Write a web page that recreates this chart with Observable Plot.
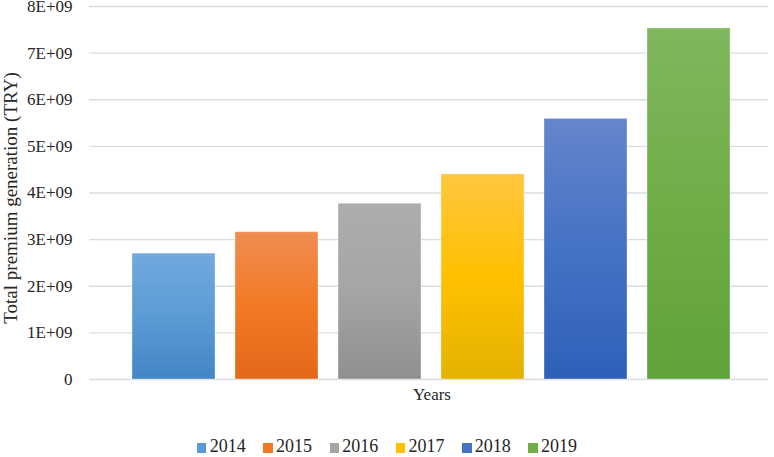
<!DOCTYPE html>
<html>
<head>
<meta charset="utf-8">
<script src="https://cdn.jsdelivr.net/npm/d3@7"></script>
<script src="https://cdn.jsdelivr.net/npm/@observablehq/plot@0.6"></script>
<style>
  html, body { margin: 0; padding: 0; background: #fff; }
  #wrap { width: 774px; height: 457px; overflow: hidden; font-family: "Liberation Serif", "Times New Roman", serif; color: #262626; }
  #legend { display: flex; justify-content: center; align-items: center; margin-top: 17px; height: 18px; line-height: 18px; font-size: 18px; }
  .item { display: flex; align-items: center; margin: 0 8.8px; }
  .sw { width: 9.5px; height: 9.5px; margin-right: 3.2px; position: relative; top: 2px; }
</style>
</head>
<body>
<div id="wrap"><div id="chart"></div><div id="legend"></div></div>
<script>
const years = ["2014", "2015", "2016", "2017", "2018", "2019"];
const premiums = [2.70e9, 3.16e9, 3.77e9, 4.40e9, 5.59e9, 7.53e9];
const baseColors = ["#5b9bd5", "#f27a26", "#a5a5a5", "#ffc000", "#4472c4", "#70ad47"];
const topColors = ["#72a9de", "#f08c52", "#adadad", "#ffc63f", "#6585cd", "#80b65e"];
const bottomColors = ["#4386c6", "#e2691a", "#8f8f8f", "#e4b200", "#2f60b8", "#61a23a"];
const yTicks = [0, 1e9, 2e9, 3e9, 4e9, 5e9, 6e9, 7e9, 8e9];
const yTickLabels = ["0", "1E+09", "2E+09", "3E+09", "4E+09", "5E+09", "6E+09", "7E+09", "8E+09"];
const yTitle = "Total premium generation (TRY)";
const xTitle = "Years";

const data = years.map((y, i) => ({year: y, value: premiums[i]}));
const serif = "'Liberation Serif', 'Times New Roman', serif";

const chart = Plot.plot({
  width: 774,
  height: 420,
  marginLeft: 89,
  marginRight: 6,
  marginTop: 6,
  marginBottom: 41,
  style: {fontFamily: serif, fontSize: "17px", color: "#262626", background: "white", overflow: "visible"},
  x: {domain: years, range: [120.3, 742.7], paddingInner: 0.194, paddingOuter: 0.1, axis: null},
  y: {domain: [0, 8e9]},
  color: {domain: years, range: years.map(y => `url(#grad-${y})`)},
  marks: [
    Plot.gridY(yTicks, {stroke: "#d9dce3", strokeOpacity: 1, strokeWidth: 1.3}),
    Plot.axisY(yTicks, {
      tickSize: 0, tickPadding: 17, fontSize: 17, fontFamily: serif,
      tickFormat: d => yTickLabels[yTicks.indexOf(d)],
      label: null
    }),
    Plot.text([yTitle], {
      text: d => d, frameAnchor: "left", rotate: -90, dx: -79, dy: 5,
      fontSize: 19, fontFamily: serif, lineAnchor: "middle", textAnchor: "middle", fill: "#262626"
    }),
    Plot.text([xTitle], {
      text: d => d, frameAnchor: "bottom", dx: 3, dy: 15,
      fontSize: 17, fontFamily: serif, lineAnchor: "middle", textAnchor: "middle", fill: "#262626"
    }),
    Plot.barY(data, {x: "year", y: "value", fill: "year", stroke: "white", strokeOpacity: 0.35, strokeWidth: 1})
  ]
});

const svg = d3.select(chart);
const defs = svg.insert("defs", ":first-child");
years.forEach((y, i) => {
  const g = defs.append("linearGradient").attr("id", `grad-${y}`)
    .attr("x1", 0).attr("y1", 0).attr("x2", 0).attr("y2", 1);
  g.append("stop").attr("offset", "0%").attr("stop-color", topColors[i]);
  g.append("stop").attr("offset", "50%").attr("stop-color", baseColors[i]);
  g.append("stop").attr("offset", "100%").attr("stop-color", bottomColors[i]);
});
document.getElementById("chart").appendChild(chart);

const legend = d3.select("#legend");
years.forEach((y, i) => {
  const it = legend.append("div").attr("class", "item");
  it.append("div").attr("class", "sw").style("background", baseColors[i]);
  it.append("span").text(y);
});
</script>
</body>
</html>
